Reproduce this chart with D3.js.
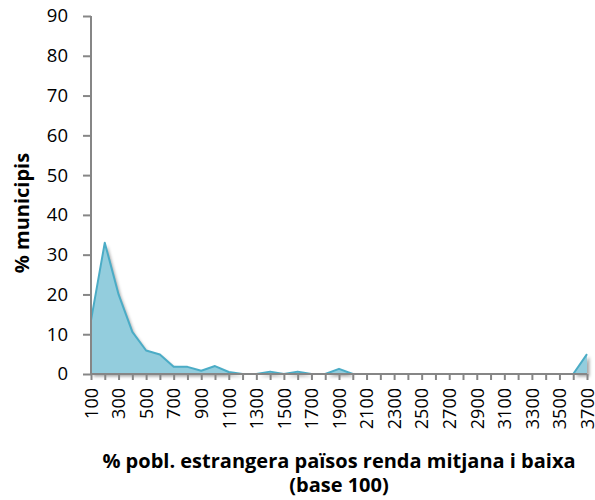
<!DOCTYPE html>
<html>
<head>
<meta charset="utf-8">
<script src="https://cdn.jsdelivr.net/npm/d3@7"></script>
<style>
  html, body { margin: 0; padding: 0; background: #fff; }
  svg { display: block; }
  text { font-family: "Open Sans", "Noto Sans", sans-serif; fill: #000; }
</style>
</head>
<body>
<svg id="chart" width="595" height="500"></svg>
<script>
// Categories: foreign population share (base 100), steps of 100
const categories = ["100","200","300","400","500","600","700","800","900","1000",
  "1100","1200","1300","1400","1500","1600","1700","1800","1900","2000",
  "2100","2200","2300","2400","2500","2600","2700","2800","2900","3000",
  "3100","3200","3300","3400","3500","3600","3700"];

// % of municipalities in each category
const municipis = [13.5, 33.0, 20.0, 10.6, 5.9, 4.9, 1.8, 1.8, 0.8, 2.0,
  0.5, 0, 0, 0.6, 0, 0.6, 0, 0, 1.3, 0,
  0, 0, 0, 0, 0, 0, 0, 0, 0, 0,
  0, 0, 0, 0, 0, 0, 5.0];

const yTicks = [0, 10, 20, 30, 40, 50, 60, 70, 80, 90];
const xTickLabels = categories.filter((d, i) => i % 2 === 0);

const svg = d3.select("#chart");
const margin = { left: 91, right: 8, top: 16, bottom: 126 };
const W = 595, H = 500;
const plotW = W - margin.left - margin.right;
const plotH = H - margin.top - margin.bottom;
const fontStack = '"Open Sans", "Noto Sans", sans-serif';

const x = d3.scalePoint().domain(categories).range([0, plotW]);
const y = d3.scaleLinear().domain([0, 90]).range([plotH, 0]);

const defs = svg.append("defs");
const shadow = defs.append("filter").attr("id", "shadow")
  .attr("x", "-10%").attr("y", "-10%").attr("width", "130%").attr("height", "130%");
shadow.append("feDropShadow").attr("dx", 2.5).attr("dy", 2.5)
  .attr("stdDeviation", 1.8).attr("flood-color", "#000").attr("flood-opacity", 0.35);

const g = svg.append("g").attr("transform", `translate(${margin.left},${margin.top})`);

const area = d3.area()
  .x((d, i) => x(categories[i]))
  .y0(y(0))
  .y1(d => y(d));
const line = d3.line()
  .x((d, i) => x(categories[i]))
  .y(d => y(d));

g.append("path").datum(municipis)
  .attr("d", area)
  .attr("fill", "#93CDDD")
  .attr("filter", "url(#shadow)");
g.append("path").datum(municipis)
  .attr("d", line)
  .attr("fill", "none")
  .attr("stroke", "#4BACC6")
  .attr("stroke-width", 2)
  .attr("stroke-linejoin", "round");

// Y axis
const yAxis = g.append("g").call(
  d3.axisLeft(y).tickValues(yTicks).tickSize(8).tickPadding(15)
);
yAxis.selectAll("text").attr("font-size", 18.5).style("font-family", fontStack);
yAxis.selectAll("line, path").attr("stroke", "#868686").attr("stroke-width", 2);
yAxis.select(".domain").attr("d", `M0,${plotH}V0`);

// X axis
const xAxis = g.append("g").attr("transform", `translate(0,${plotH})`).call(
  d3.axisBottom(x).tickSize(6).tickFormat(d => xTickLabels.includes(d) ? d : "")
);
xAxis.selectAll("line, path").attr("stroke", "#868686").attr("stroke-width", 2);
xAxis.select(".domain").attr("d", `M0,0H${plotW}`);
xAxis.selectAll("text")
  .attr("font-size", 18)
  .style("font-family", fontStack)
  .attr("text-anchor", "end")
  .attr("transform", "rotate(-90)")
  .attr("x", -14)
  .attr("y", 0)
  .attr("dy", "0.35em");

// Axis titles
svg.append("text")
  .attr("transform", `translate(29,213) rotate(-90)`)
  .attr("text-anchor", "middle")
  .attr("font-size", 20)
  .attr("font-weight", "bold")
  .text("% municipis");

const xTitle = svg.append("text")
  .attr("text-anchor", "middle")
  .attr("font-size", 20)
  .attr("font-weight", "bold");
xTitle.append("tspan").attr("x", margin.left + plotW / 2).attr("y", 468)
  .text("% pobl. estrangera països renda mitjana i baixa");
xTitle.append("tspan").attr("x", margin.left + plotW / 2).attr("y", 492)
  .text("(base 100)");
</script>
</body>
</html>
